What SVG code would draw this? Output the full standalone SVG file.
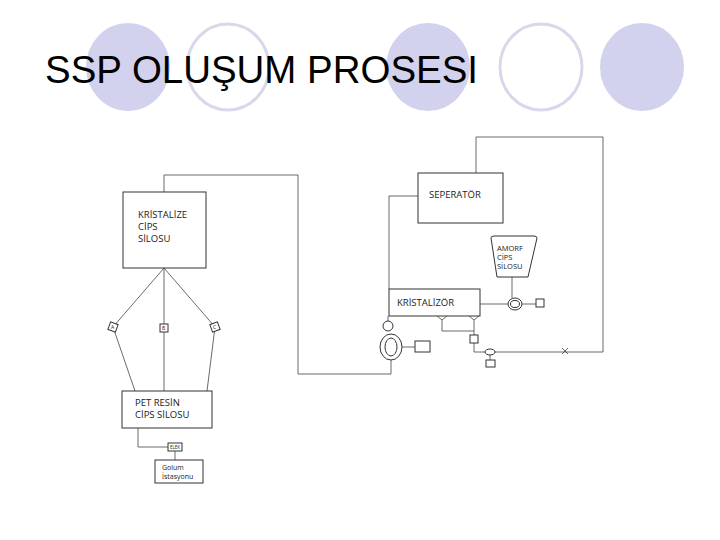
<svg xmlns="http://www.w3.org/2000/svg" width="720" height="540" viewBox="0 0 720 540">
<style>
.f{fill:#d2d2ee}.o{fill:none;stroke:#d8d8ea;stroke-width:3}
.b{fill:#fff;stroke:#333;stroke-width:1}
.l{fill:none;stroke:#444;stroke-width:0.8}
text{font-family:"Open Sans","DejaVu Sans",sans-serif;fill:#222}
.t{font-family:"Liberation Sans",Arial,sans-serif;font-size:38px;fill:#000}
.s{font-size:9.5px}.xs{font-size:5px}
</style>
<rect width="720" height="540" fill="#fff"/>
<g id="title-deco">
<ellipse class="f" cx="128" cy="67" rx="42" ry="44"/>
<ellipse class="o" cx="228" cy="67" rx="41" ry="43"/>
<ellipse class="f" cx="428" cy="67" rx="42" ry="44"/>
<ellipse class="o" cx="541" cy="67" rx="41" ry="43"/>
<ellipse class="f" cx="642" cy="67" rx="42" ry="44"/>
</g>
<text class="t" x="45" y="83" textLength="433" lengthAdjust="spacingAndGlyphs">SSP OLUŞUM PROSESI</text>
<g id="connectors">
<path class="l" d="M164 192V175H298V374H391V360"/>
<path class="l" d="M164 268L113 327M164 268V328M164 268L215 327"/>
<path class="l" d="M113 327L135 391M164 328V391M215 327L207 391"/>
<path class="l" d="M138 428V447H168M175 451V460"/>
<path class="l" d="M418 196H389V289M476 173V137H603V352H495M485 352H474V343"/>
<path class="l" d="M480 304H508M522 304H536M512 277V298"/>
<path class="l" d="M442 320V331H474M474 320V335M490 355V360"/>
<path class="l" d="M388 316V321M402 347H415"/>
<path class="l" d="M562 348L568 354M568 348L562 354"/>
</g>
<g id="kristalize-silo"><rect class="b" x="123" y="192" width="83" height="76" stroke-width="1.5"/>
<text class="s" x="138" y="218">KRİSTALİZE</text><text class="s" x="138" y="230">CİPS</text><text class="s" x="138" y="242">SİLOSU</text></g>
<g id="valve-a"><rect class="b" x="109" y="323" width="8" height="8" transform="rotate(20 113 327)"/><text class="xs" x="111" y="329">A</text></g>
<g id="valve-b"><rect class="b" x="160" y="324" width="8" height="8"/><text class="xs" x="162" y="330">B</text></g>
<g id="valve-c"><rect class="b" x="211" y="323" width="8" height="8" transform="rotate(-20 215 327)"/><text class="xs" x="213" y="329">C</text></g>
<g id="pet-silo"><rect class="b" x="122" y="391" width="90" height="37"/>
<text class="s" x="135" y="406">PET RESİN</text><text class="s" x="135" y="418">CİPS SİLOSU</text></g>
<g id="elek"><rect class="b" x="168" y="443" width="14" height="8" stroke-width="0.6"/><text x="170" y="449" style="font-size:4.5px">ELEK</text></g>
<g id="golum"><rect class="b" x="155" y="460" width="48" height="23"/>
<text x="162" y="470" style="font-size:7px">Golum</text><text x="162" y="479" style="font-size:7px">İstasyonu</text></g>
<g id="seperator"><rect class="b" x="418" y="173" width="85" height="50"/><text class="s" x="429" y="198">SEPERATÖR</text></g>
<g id="kristalizor"><rect class="b" x="389" y="289" width="91" height="27"/><text class="s" x="397" y="306">KRİSTALİZÖR</text>
<path class="l" d="M437 316L442 320L447 316M469 316L474 320L479 316"/></g>
<g id="amorf-silo"><path class="b" d="M491 238Q491 236 494 236H534Q537 236 537 238L528 277H497Z" stroke-width="1.5"/>
<text x="497" y="251" style="font-size:7.5px">AMORF</text><text x="497" y="260" style="font-size:7.5px">CİPS</text><text x="497" y="269" style="font-size:7.5px">SİLOSU</text></g>
<g id="feeder"><ellipse class="b" cx="515" cy="304" rx="7" ry="6"/><ellipse class="b" cx="515" cy="304" rx="4.5" ry="3.5"/><rect class="b" x="536" y="299" width="8" height="8"/></g>
<g id="blower"><circle class="b" cx="388" cy="326" r="5"/><ellipse class="b" cx="391" cy="347" rx="11" ry="13"/><ellipse class="b" cx="391" cy="347" rx="6" ry="9"/><rect class="b" x="415" y="341" width="15" height="11"/></g>
<g id="square-1"><rect class="b" x="470" y="335" width="8" height="8"/></g>
<g id="valve-d"><ellipse class="b" cx="490" cy="352" rx="5" ry="3"/><rect class="b" x="486" y="360" width="9" height="7"/></g>
</svg>
